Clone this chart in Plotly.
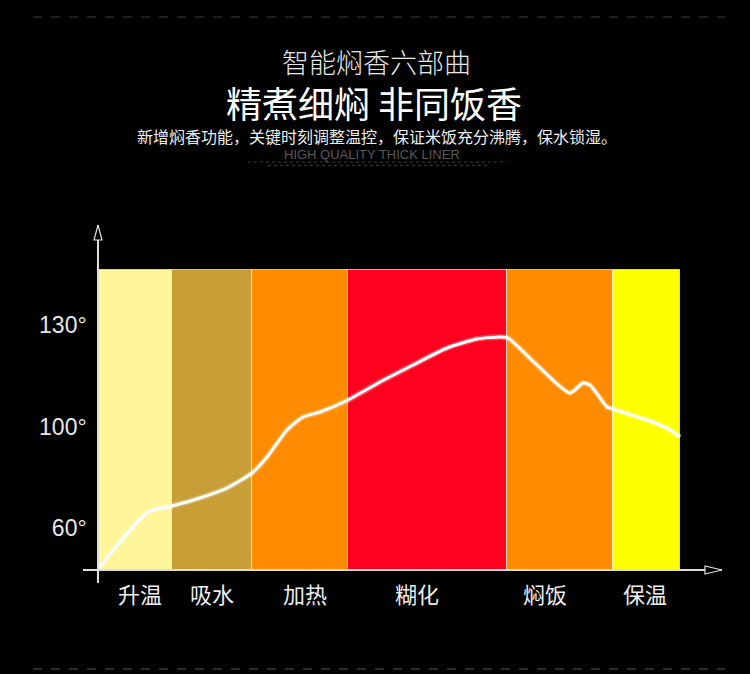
import plotly.graph_objects as go

# stage bands: left edge / width along the time axis, fill colour
stage_names = ["升温", "吸水", "加热", "糊化", "焖饭", "保温"]
stage_left = [0, 74, 154, 250, 409, 515]
stage_width = [74, 80, 96, 159, 106, 67]
stage_colors = ["#FFF59B", "#C89E36", "#FF8C00", "#FF001E", "#FF8C00", "#FFFF00"]
band_height = [300, 300, 300, 300, 300, 300]
label_pos = [42, 114, 207, 319, 447, 547]

# temperature levels (chart units) and their labels
temp_ticks = [42, 143, 245]
temp_labels = ["60°", "100°", "130°"]

# temperature curve
curve_t = [1, 50, 74, 102, 129, 154, 169, 189, 205, 222, 250, 282, 315, 349,
           379, 402, 410, 439, 472, 485, 492, 509, 515, 549, 569, 582]
curve_level = [2, 58, 64, 72, 82, 97, 113, 140, 153, 158, 170, 188, 205, 222,
               231, 233, 232, 205, 177, 187, 185, 163, 161, 150, 142, 133]

W, H = 750, 674
CJK = "Noto Sans CJK SC"

fig = go.Figure()

fig.add_trace(go.Bar(
    x=[l + w / 2 for l, w in zip(stage_left, stage_width)],
    y=band_height,
    width=stage_width,
    marker=dict(color=stage_colors, line=dict(color="rgba(255,255,255,0.65)", width=1)),
    hoverinfo="skip",
))

# soft glow under the curve
fig.add_trace(go.Scatter(
    x=curve_t, y=curve_level, mode="lines",
    line=dict(color="rgba(255,255,255,0.25)", width=6, shape="spline", smoothing=0.6),
    hoverinfo="skip",
))
fig.add_trace(go.Scatter(
    x=curve_t, y=curve_level, mode="lines",
    line=dict(color="#FFFFFF", width=3, shape="spline", smoothing=0.6),
))

# axes: plot area spans px 83..722 horizontally, 225..583 vertically
x0_px, x1_px = 83, 722
y_top_px, y_bot_px = 225, 583
fig.update_layout(
    width=W, height=H,
    margin=dict(l=0, r=0, t=0, b=0),
    paper_bgcolor="black", plot_bgcolor="black",
    showlegend=False,
    bargap=0,
    xaxis=dict(
        range=[-15, 624], domain=[x0_px / W, x1_px / W],
        showgrid=False, zeroline=False, showline=True,
        linecolor="#DDDDDD", linewidth=1.5,
        anchor="free", position=(H - 570) / H,
        tickmode="array", tickvals=label_pos, ticktext=stage_names,
        ticks="outside", ticklen=6, tickcolor="rgba(0,0,0,0)",
        tickfont=dict(family=CJK, size=22, color="#EEEEEE"),
        fixedrange=True,
    ),
    yaxis=dict(
        range=[-13, 345], domain=[(H - y_bot_px) / H, (H - y_top_px) / H],
        showgrid=False, zeroline=False, showline=True,
        linecolor="#DDDDDD", linewidth=1.5,
        anchor="free", position=98 / W,
        tickmode="array", tickvals=temp_ticks, ticktext=temp_labels,
        ticks="outside", ticklen=6, tickcolor="rgba(0,0,0,0)",
        tickfont=dict(family="Liberation Sans", size=23, color="#E6E6E6"),
        fixedrange=True,
    ),
)

# open arrowheads at the ends of the axes
fig.add_shape(type="path", path="M -4,330 L 0,345 L 4,330 Z",
              xref="x", yref="y", line=dict(color="#DDDDDD", width=1.2),
              fillcolor="black", layer="above")
fig.add_shape(type="path", path="M 607,-4 L 624,0 L 607,4 Z",
              xref="x", yref="y", line=dict(color="#DDDDDD", width=1.2),
              fillcolor="black", layer="above")


def py(px):
    return 1 - px / H


def heading(text, x_px, y_px, font):
    fig.add_annotation(text=text, x=x_px / W, y=py(y_px), xref="paper", yref="paper",
                       xanchor="center", yanchor="middle", showarrow=False, font=font)


# heading texts
heading("智能焖香六部曲", 376, 62, dict(family=CJK, size=27, color="#E8E8E8", weight=300))
heading("精煮细焖 非同饭香", 374, 102, dict(family=CJK, size=36, color="#FFFFFF"))
heading("新增焖香功能，关键时刻调整温控，保证米饭充分沸腾，保水锁湿。", 377, 136,
        dict(family=CJK, size=16, color="#EEEEEE"))
heading("HIGH QUALITY THICK LINER", 372, 154,
        dict(family="Liberation Sans", size=13, color="#5A5A5A"))

# fine decorative lines under the heading and at the page edges
fig.add_shape(type="line", x0=248 / W, x1=507 / W, y0=py(162), y1=py(162),
              xref="paper", yref="paper", line=dict(color="#3A3A3A", width=1, dash="dot"))
fig.add_shape(type="line", x0=268 / W, x1=487 / W, y0=py(165.5), y1=py(165.5),
              xref="paper", yref="paper", line=dict(color="#3A3A3A", width=1, dash="dot"))
fig.add_shape(type="line", x0=33 / W, x1=725 / W, y0=py(17), y1=py(17),
              xref="paper", yref="paper", line=dict(color="#2A2A2A", width=1.5, dash="dash"))
fig.add_shape(type="line", x0=33 / W, x1=725 / W, y0=py(669), y1=py(669),
              xref="paper", yref="paper", line=dict(color="#3A3A3A", width=1.5, dash="dash"))

# drop the browser's default page margin so the figure sits at the window corner
fig.write_html("out.html", config={"displayModeBar": False},
               post_script="document.body.style.margin='0';")
